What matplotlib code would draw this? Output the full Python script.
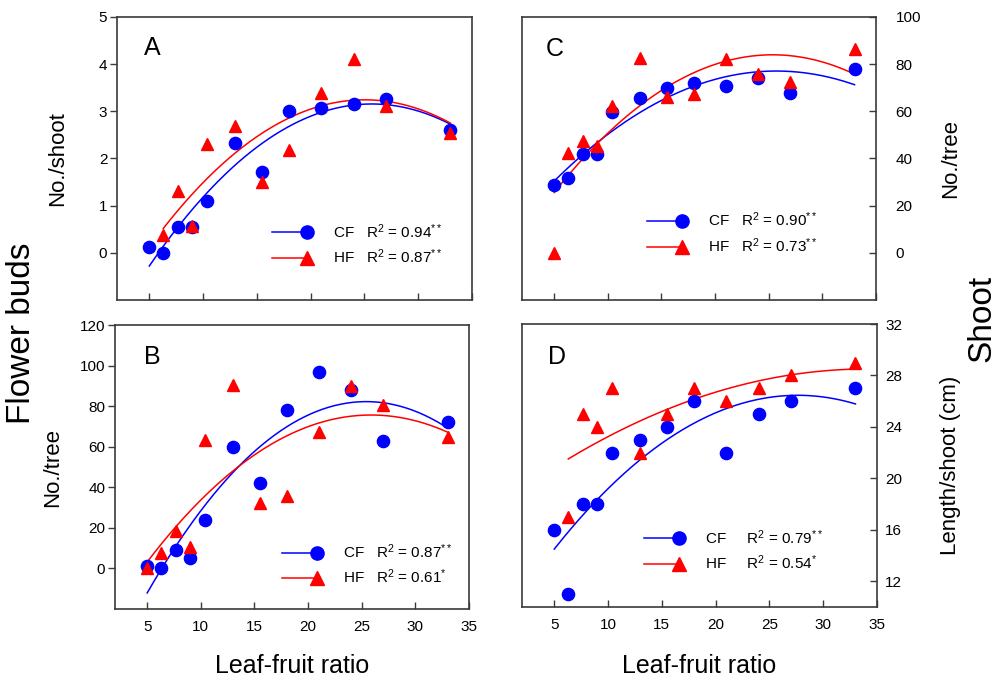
import numpy as np
import matplotlib
matplotlib.use('Agg')
import matplotlib.pyplot as plt
from matplotlib.lines import Line2D
from matplotlib.legend_handler import HandlerLine2D

plt.rcParams['font.family'] = ['Liberation Sans', 'DejaVu Sans']
plt.rcParams['mathtext.fontset'] = 'custom'
plt.rcParams['mathtext.rm'] = 'Liberation Sans'
plt.rcParams['mathtext.it'] = 'Liberation Sans:italic'

#%% Datos
ratio = [5, 6.3, 7.7, 9, 10.4, 13, 15.5, 18, 21, 24, 27, 33]
ratio_sin5 = ratio[1:]   # HF de A y D empieza en 6.3

# A: yemas florales por brote
a_cf = [0.13, 0.0, 0.55, 0.55, 1.1, 2.32, 1.72, 3.0, 3.08, 3.15, 3.27, 2.6]
a_hf = [0.38, 1.31, 0.57, 2.31, 2.68, 1.51, 2.17, 3.38, 4.11, 3.12, 2.55]
# B: yemas florales por árbol
b_cf = [1, 0, 9, 5, 24, 60, 42, 78, 97, 88, 63, 72]
b_hf = [0, 7.7, 18.5, 10.6, 63.4, 90.4, 32.2, 35.5, 67.5, 89.9, 80.4, 64.6]
# C: brotes por árbol
c_cf = [28.6, 31.7, 42.1, 41.8, 59.9, 65.8, 69.9, 72.1, 70.6, 74, 67.8, 77.9]
c_hf = [0, 42.5, 47.4, 45.3, 62.4, 82.8, 66.1, 67.2, 82.1, 75.8, 72.4, 86.5]
# D: longitud por brote
d_cf = [16, 11, 18, 18, 22, 23, 24, 26, 22, 25, 26, 27]
d_hf = [17, 25, 24, 27, 22, 25, 27, 26, 27, 28, 29]

r2_text = {
    'A': ('0.94$^{**}$', '0.87$^{**}$'),
    'B': ('0.87$^{**}$', '0.61$^{*}$'),
    'C': ('0.90$^{**}$', '0.73$^{**}$'),
    'D': ('0.79$^{**}$', '0.54$^{*}$'),
}


# Leyenda: línea y después el marcador al final
class HandlerMarcadorFinal(HandlerLine2D):
    def create_artists(self, *args, **kwargs):
        artists = super().create_artists(*args, **kwargs)
        for a in artists:
            if a.get_marker() not in (None, 'None', '', ' '):
                a.set_markevery([len(a.get_xdata()) - 1])
        return artists


#%% Figura
fig = plt.figure(figsize=(9.96, 6.77), dpi=100)
ax_a = fig.add_axes([0.1175, 0.5569, 0.3564, 0.418])
ax_b = fig.add_axes([0.1155, 0.1004, 0.3554, 0.4195])
ax_c = fig.add_axes([0.5241, 0.5569, 0.3554, 0.418])
ax_d = fig.add_axes([0.5241, 0.1034, 0.3564, 0.418])

frame_col = '#3a3a3a'


def panel(ax, x_cf, y_cf, x_hf, y_hf, letra, letra_pos, leg_pos, cf_gap='   '):
    for x, y, col in [(x_cf, y_cf, 'blue'), (x_hf, y_hf, 'red')]:
        coef = np.polyfit(x, y, 2)
        xs = np.linspace(min(x), max(x), 200)
        ax.plot(xs, np.polyval(coef, xs), color=col, lw=1.1, zorder=2)
    ax.plot(x_cf, y_cf, 'o', color='blue', ms=8.8, zorder=3)
    ax.plot(x_hf, y_hf, '^', color='red', ms=9, zorder=4)
    ax.set_xlim(2, 35)
    ax.set_xticks([5, 10, 15, 20, 25, 30, 35])
    for s in ax.spines.values():
        s.set_color(frame_col)
        s.set_linewidth(1.2)
    ax.text(letra_pos[0], letra_pos[1], letra, transform=ax.transAxes,
            fontsize=18, va='center', ha='left')
    h_cf = Line2D([], [], color='blue', lw=1.1, marker='o', ms=9.5)
    h_hf = Line2D([], [], color='red', lw=1.1, marker='^', ms=9.5)
    r_cf, r_hf = r2_text[letra]
    ax.legend([h_cf, h_hf],
              ['CF' + cf_gap + 'R$^2$ = ' + r_cf, 'HF' + cf_gap + 'R$^2$ = ' + r_hf],
              handler_map={Line2D: HandlerMarcadorFinal()},
              numpoints=2, loc='center left', bbox_to_anchor=leg_pos,
              frameon=False, fontsize=11, handlelength=2.9, handletextpad=1.4,
              labelspacing=0.45, borderpad=0, borderaxespad=0)


panel(ax_a, ratio, a_cf, ratio_sin5, a_hf, 'A', (0.076, 0.892), (0.424, 0.198))
panel(ax_b, ratio, b_cf, ratio, b_hf, 'B', (0.083, 0.888), (0.459, 0.157))
panel(ax_c, ratio, c_cf, ratio, c_hf, 'C', (0.067, 0.887), (0.340, 0.237))
panel(ax_d, ratio, d_cf, ratio_sin5, d_hf, 'D', (0.074, 0.884), (0.331, 0.201), cf_gap='     ')

# ejes y
ax_a.set_ylim(-1, 5)
ax_a.set_yticks([0, 1, 2, 3, 4, 5])
ax_b.set_ylim(-20, 120)
ax_b.set_yticks([0, 20, 40, 60, 80, 100, 120])
ax_c.set_ylim(-20, 100)
ax_c.set_yticks([0, 20, 40, 60, 80, 100])
ax_d.set_ylim(10, 32)
ax_d.set_yticks([12, 16, 20, 24, 28, 32])

for ax in [ax_a, ax_b]:
    ax.tick_params(axis='y', direction='out', length=5, width=1, colors=frame_col,
                   labelcolor='black', labelsize=11, pad=2)
for ax in [ax_c, ax_d]:
    ax.yaxis.tick_right()
    ax.yaxis.set_label_position('right')
ax_c.tick_params(axis='y', direction='in', length=5, width=1, colors=frame_col,
                 labelcolor='black', labelsize=11, pad=14)
ax_d.tick_params(axis='y', direction='in', length=5, width=1, colors=frame_col,
                 labelcolor='black', labelsize=11, pad=6)

for ax in [ax_a, ax_b, ax_c, ax_d]:
    ax.tick_params(axis='x', direction='in', length=5, width=1, colors=frame_col,
                   labelcolor='black', labelsize=11, pad=8)
for ax in [ax_a, ax_c]:
    ax.tick_params(axis='x', labelbottom=False)

ax_a.set_ylabel('No./shoot', fontsize=16)
ax_a.yaxis.set_label_coords(-0.138, 0.5)
ax_b.set_ylabel('No./tree', fontsize=16)
ax_b.yaxis.set_label_coords(-0.147, 0.5)
ax_c.set_ylabel('No./tree', fontsize=16)
ax_c.yaxis.set_label_coords(1.18, 0.5)
ax_d.set_ylabel('Length/shoot (cm)', fontsize=16)
ax_d.yaxis.set_label_coords(1.177, 0.5)

ax_b.set_xlabel('Leaf-fruit ratio', fontsize=18, labelpad=14)
ax_d.set_xlabel('Leaf-fruit ratio', fontsize=18, labelpad=16)

fig.text(0.022, 0.508, 'Flower buds', rotation=90, fontsize=24, ha='center', va='center')
fig.text(0.986, 0.53, 'Shoot', rotation=90, fontsize=24, ha='center', va='center')

fig.savefig('out.png', dpi=100)
